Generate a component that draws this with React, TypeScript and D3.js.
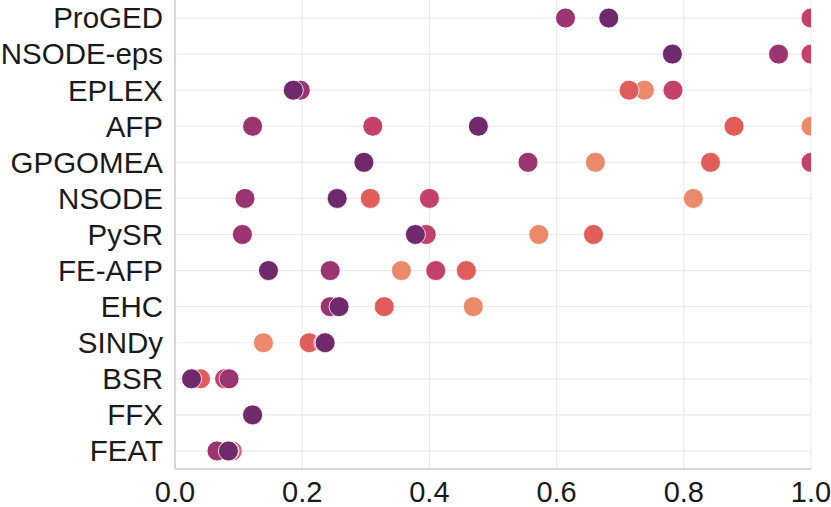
import React, { useEffect, useRef } from 'react';
import * as d3 from 'd3';

// methods, top to bottom
const methods = [
    'ProGED', 'NSODE-eps', 'EPLEX', 'AFP', 'GPGOMEA', 'NSODE', 'PySR',
    'FE-AFP', 'EHC', 'SINDy', 'BSR', 'FFX', 'FEAT',
];

// hue levels, drawn in this order (last on top)
const levels = ['l1', 'l2', 'l3', 'l4', 'l5'];
const levelColors = ['#eb8a6a', '#e05d5b', '#c3416b', '#9b3571', '#702a6c'];

// one value per method for each hue level
const l1Values = [1.0, 1.0, 0.738, 1.0, 0.661, 0.815, 0.572, 0.356, 0.469, 0.139, 0.03, 0.122, 0.085];
const l2Values = [1.0, 1.0, 0.714, 0.879, 0.842, 0.307, 0.658, 0.458, 0.329, 0.211, 0.040, 0.122, 0.090];
const l3Values = [1.0, 1.0, 0.783, 0.311, 1.0, 0.400, 0.395, 0.410, 0.250, 0.234, 0.078, 0.122, 0.085];
const l4Values = [0.614, 0.949, 0.197, 0.122, 0.555, 0.110, 0.106, 0.244, 0.244, 0.236, 0.085, 0.122, 0.066];
const l5Values = [0.682, 0.782, 0.186, 0.477, 0.297, 0.255, 0.378, 0.147, 0.258, 0.236, 0.026, 0.122, 0.084];

const xTicks = [0, 0.2, 0.4, 0.6, 0.8, 1.0];

const App: React.FC = () => {
    const svgRef = useRef<SVGSVGElement>(null);

    useEffect(() => {
        if (!svgRef.current) return;

        const width = 831;
        const height = 507;
        const left = 175;
        const right = 811;
        const top = 0;
        const bottom = 469;

        const svg = d3.select(svgRef.current);
        svg.selectAll('*').remove();
        svg.attr('width', width).attr('height', height);

        const x = d3.scaleLinear().domain([0, 1]).range([left, right]);
        const y = d3.scalePoint<string>().domain(methods).range([top, bottom]).padding(0.5);
        const color = d3.scaleOrdinal<string, string>().domain(levels).range(levelColors);

        svg.append('defs')
            .append('clipPath')
            .attr('id', 'plot-clip')
            .append('rect')
            .attr('x', left)
            .attr('y', top)
            .attr('width', right - left)
            .attr('height', bottom - top);

        // grid
        svg.append('g')
            .selectAll('line')
            .data(xTicks)
            .enter()
            .append('line')
            .attr('x1', d => x(d))
            .attr('x2', d => x(d))
            .attr('y1', top)
            .attr('y2', bottom)
            .style('stroke', '#ebebeb')
            .style('stroke-width', 1.2);

        svg.append('g')
            .selectAll('line')
            .data(methods)
            .enter()
            .append('line')
            .attr('x1', left)
            .attr('x2', right)
            .attr('y1', d => y(d)!)
            .attr('y2', d => y(d)!)
            .style('stroke', '#ebebeb')
            .style('stroke-width', 1.2);

        // spines
        svg.append('line')
            .attr('x1', left).attr('x2', left)
            .attr('y1', top).attr('y2', bottom)
            .style('stroke', '#cccccc')
            .style('stroke-width', 1.5);
        svg.append('line')
            .attr('x1', left).attr('x2', right)
            .attr('y1', bottom).attr('y2', bottom)
            .style('stroke', '#cccccc')
            .style('stroke-width', 1.5);

        // points
        const series = [l1Values, l2Values, l3Values, l4Values, l5Values];
        const points = levels.flatMap((lvl, li) =>
            methods.map((m, mi) => ({ method: m, level: lvl, value: series[li][mi] }))
        );

        svg.append('g')
            .attr('clip-path', 'url(#plot-clip)')
            .selectAll('circle')
            .data(points)
            .enter()
            .append('circle')
            .attr('cx', d => x(d.value))
            .attr('cy', d => y(d.method)!)
            .attr('r', 10)
            .style('fill', d => color(d.level))
            .style('stroke', '#ffffff')
            .style('stroke-width', 0.8);

        const font = 'Arial, "Liberation Sans", Helvetica, sans-serif';

        // y labels
        svg.append('g')
            .selectAll('text')
            .data(methods)
            .enter()
            .append('text')
            .attr('x', left - 12)
            .attr('y', d => y(d)!)
            .attr('dy', '0.35em')
            .attr('text-anchor', 'end')
            .style('font-family', font)
            .style('font-size', '29.5px')
            .style('fill', '#1a1a1a')
            .text(d => d);

        // x tick labels
        svg.append('g')
            .selectAll('text')
            .data(xTicks)
            .enter()
            .append('text')
            .attr('x', d => x(d))
            .attr('y', 502)
            .attr('text-anchor', 'middle')
            .style('font-family', font)
            .style('font-size', '29px')
            .style('fill', '#1a1a1a')
            .text(d => d.toFixed(1));
    }, []);

    return (
        <div style={{ position: 'absolute', left: 0, top: 0 }}>
            <svg ref={svgRef} style={{ display: 'block' }}></svg>
        </div>
    );
};

export default App;
